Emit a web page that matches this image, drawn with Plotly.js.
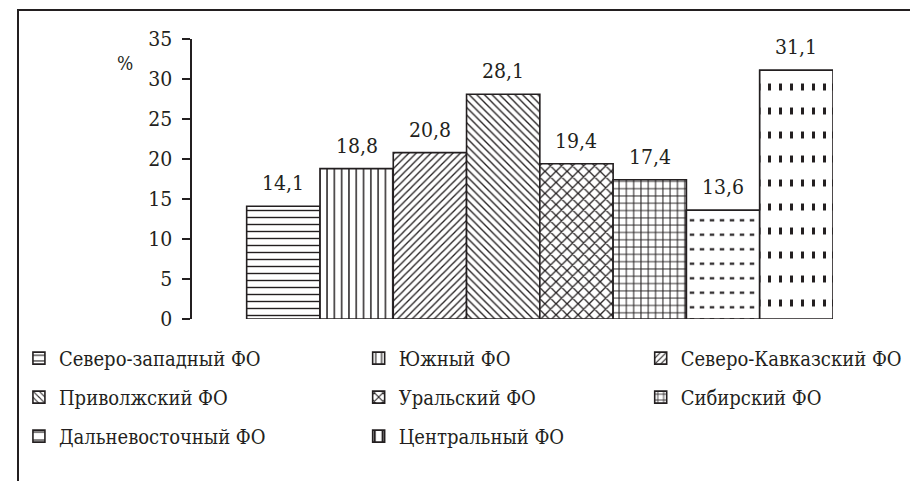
<!DOCTYPE html>
<html>
<head>
<meta charset="utf-8">
<script src="https://cdn.plot.ly/plotly-3.0.1.min.js"></script>
<style>
  html, body { margin: 0; padding: 0; background: #fff; }
  #wrap { position: relative; width: 910px; height: 481px; overflow: hidden; }
  #chart { position: absolute; left: 0; top: 0; width: 910px; height: 481px; }
  #frame { position: absolute; left: 17px; top: 9px; width: 900px; height: 480px;
           border-top: 2px solid #231f20; border-left: 2px solid #231f20; pointer-events: none; }
</style>
</head>
<body>
<div id="wrap">
  <div id="chart"></div>
  <div id="frame"></div>
</div>
<script>
// Federal districts and their shares, %
const districts = [
  'Северо-западный ФО',
  'Южный ФО',
  'Северо-Кавказский ФО',
  'Приволжский ФО',
  'Уральский ФО',
  'Сибирский ФО',
  'Дальневосточный ФО',
  'Центральный ФО'
];
const shares = [14.1, 18.8, 20.8, 28.1, 19.4, 17.4, 13.6, 31.1];

// Y axis ticks
const yTicks = [0, 5, 10, 15, 20, 25, 30, 35];
const yUnit = '%';

// Hatching for each bar (shape, size, solidity)
const hatch = [
  { shape: '-', size: 7, solidity: 0.2 },
  { shape: '|', size: 7.3, solidity: 0.2 },
  { shape: '/', size: 5.2, solidity: 0.25 },
  { shape: '\\', size: 5.4, solidity: 0.25 },
  { shape: 'x', size: 7.8, solidity: 0.3 },
  { shape: '+', size: 7.3, solidity: 0.26 },
  { shape: '-', size: 14.5, solidity: 0.15 },
  { shape: '|', size: 11, solidity: 0.27 }
];
// White stripes laid over some hatches to break lines into dashes / dots
const breaks = {
  6: { shape: '|', size: 10, solidity: 0.55 },
  7: { shape: '-', size: 24, solidity: 0.71 }
};

const ink = '#231f20';
const serif = 'DejaVu Serif Condensed';
const legendIds = ['legend', 'legend2', 'legend3'];

const traces = [];
districts.forEach((name, i) => {
  traces.push({
    type: 'bar',
    name: name,
    x: [name],
    y: [shares[i]],
    legend: legendIds[i % 3],
    legendgroup: 'g' + i,
    hoverinfo: 'skip',
    marker: {
      color: '#ffffff',
      line: { color: ink, width: 1.6 },
      pattern: {
        shape: hatch[i].shape,
        size: hatch[i].size,
        solidity: hatch[i].solidity,
        fgcolor: ink,
        bgcolor: '#ffffff',
        fillmode: 'replace'
      }
    }
  });
  if (breaks[i]) {
    traces.push({
      type: 'bar',
      name: name,
      x: [name],
      y: [shares[i]],
      showlegend: false,
      hoverinfo: 'skip',
      marker: {
        color: 'rgba(0,0,0,0)',
        line: { color: ink, width: 1.6 },
        pattern: {
          shape: breaks[i].shape,
          size: breaks[i].size,
          solidity: breaks[i].solidity,
          fgcolor: '#ffffff',
          bgcolor: 'rgba(0,0,0,0)',
          fillmode: 'replace'
        }
      }
    });
  }
});

// Value labels above the bars
const labels = districts.map((name, i) => ({
  x: name,
  y: shares[i],
  xref: 'x',
  yref: 'y',
  text: shares[i].toFixed(1).replace('.', ','),
  showarrow: false,
  xanchor: 'center',
  yanchor: 'bottom',
  yshift: 9,
  font: { family: serif, size: 21, color: ink }
}));
// Unit label beside the y axis
labels.push({
  x: -0.105, y: 0.915, xref: 'paper', yref: 'paper',
  xanchor: 'center', yanchor: 'middle',
  text: yUnit, showarrow: false,
  font: { family: serif, size: 19, color: ink }
});

const legendBase = {
  orientation: 'v',
  bgcolor: 'rgba(0,0,0,0)',
  borderwidth: 0,
  tracegroupgap: 10,
  itemclick: false,
  itemdoubleclick: false,
  xanchor: 'left',
  yanchor: 'top',
  y: -0.07,
  font: { family: serif, size: 20, color: ink }
};

const layout = {
  width: 910,
  height: 481,
  margin: { l: 192, r: 77, t: 39, b: 162, autoexpand: false },
  paper_bgcolor: '#ffffff',
  plot_bgcolor: '#ffffff',
  barmode: 'overlay',
  bargap: 0,
  showlegend: true,
  font: { family: serif, size: 21, color: ink },
  xaxis: {
    type: 'category',
    categoryorder: 'array',
    categoryarray: districts,
    range: [-1.246, 7.5],
    showticklabels: false,
    showgrid: false,
    zeroline: false,
    showline: false,
    ticks: ''
  },
  yaxis: {
    range: [0, 35],
    tickvals: yTicks,
    ticktext: yTicks.map(String),
    ticks: 'outside',
    ticklen: 8,
    tickwidth: 1.6,
    tickcolor: ink,
    showline: true,
    linecolor: ink,
    linewidth: 1.6,
    showgrid: false,
    zeroline: false,
    ticklabelstandoff: 6,
    tickfont: { family: serif, size: 21, color: ink }
  },
  legend: Object.assign({}, legendBase, { x: -0.270 }),
  legend2: Object.assign({}, legendBase, { x: 0.260 }),
  legend3: Object.assign({}, legendBase, { x: 0.700 }),
  annotations: labels
};

Plotly.newPlot('chart', traces, layout, { staticPlot: true, displayModeBar: false });
</script>
</body>
</html>
